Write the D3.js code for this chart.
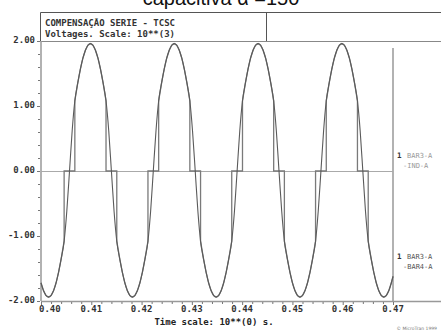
<!DOCTYPE html>
<html><head><meta charset="utf-8">
<script src="https://cdn.jsdelivr.net/npm/d3@7/dist/d3.min.js"></script>
<style>body{margin:0;background:#fff}svg{display:block;background:#fff}</style>
</head><body>
<svg id="c" width="441" height="332"></svg>
<script>
// ---- data (time in seconds, voltage in kV * 10^3 scale) ----
const timeS = [
0.4000,0.4005,0.4010,0.4015,0.4020,0.4025,0.4030,0.4035,0.4040,0.4046,0.40513,0.40567,0.4062,0.40673,
0.40733,0.40783,0.40833,0.40883,0.40933,0.40983,0.41033,0.41083,0.41133,0.41183,0.41233,0.41293,0.41347,0.4140,0.41453,0.41507,
0.41567,0.41617,0.41667,0.41717,0.41767,0.41817,0.41867,0.41917,0.41967,0.42017,0.42067,0.42127,0.4218,0.42233,0.42287,0.4234,
0.4240,0.4245,0.4250,0.4255,0.4260,0.4265,0.4270,0.4275,0.4280,0.4285,0.4290,0.4296,0.43013,0.43067,0.4312,0.43173,
0.43233,0.43283,0.43333,0.43383,0.43433,0.43483,0.43533,0.43583,0.43633,0.43683,0.43733,0.43793,0.43847,0.4390,0.43953,0.44007,
0.44067,0.44117,0.44167,0.44217,0.44267,0.44317,0.44367,0.44417,0.44467,0.44517,0.44567,0.44627,0.4468,0.44733,0.44787,0.4484,
0.4490,0.4495,0.4500,0.4505,0.4510,0.4515,0.4520,0.4525,0.4530,0.4535,0.4540,0.4546,0.45513,0.45567,0.4562,0.45673,
0.45733,0.45783,0.45833,0.45883,0.45933,0.45983,0.46033,0.46083,0.46133,0.46183,0.46233,0.46293,0.46347,0.4640,0.46453,0.46507,
0.46567,0.46617,0.46667,0.46717,0.46767,0.46817,0.46867,0.46917,0.46967,0.4700
];
// BAR3-A - BAR4-A (capacitor voltage)
const vBar3Bar4 = [
-1.72,-1.841,-1.915,-1.94,-1.915,-1.841,-1.72,-1.557,-1.357,-1.08,-0.62,0,0.62,1.08,
1.364,1.568,1.735,1.858,1.934,1.96,1.934,1.858,1.735,1.568,1.364,1.08,0.62,0,-0.62,-1.08,
-1.357,-1.557,-1.72,-1.841,-1.915,-1.94,-1.915,-1.841,-1.72,-1.557,-1.357,-1.08,-0.62,0,0.62,1.08,
1.364,1.568,1.735,1.858,1.934,1.96,1.934,1.858,1.735,1.568,1.364,1.08,0.62,0,-0.62,-1.08,
-1.357,-1.557,-1.72,-1.841,-1.915,-1.94,-1.915,-1.841,-1.72,-1.557,-1.357,-1.08,-0.62,0,0.62,1.08,
1.364,1.568,1.735,1.858,1.934,1.96,1.934,1.858,1.735,1.568,1.364,1.08,0.62,0,-0.62,-1.08,
-1.357,-1.557,-1.72,-1.841,-1.915,-1.94,-1.915,-1.841,-1.72,-1.557,-1.357,-1.08,-0.62,0,0.62,1.08,
1.364,1.568,1.735,1.858,1.934,1.96,1.934,1.858,1.735,1.568,1.364,1.08,0.62,0,-0.62,-1.08,
-1.357,-1.557,-1.72,-1.841,-1.915,-1.94,-1.915,-1.841,-1.72,-1.62
];
// BAR3-A - IND-A is zero while the thyristor valve conducts
const valveOnStart = [0.4046,0.41293,0.42127,0.4296,0.43793,0.44627,0.4546,0.46293];
const valveOnEnd   = [0.40673,0.41507,0.4234,0.43173,0.44007,0.4484,0.45673,0.46507];

const xTicks = [0.40,0.41,0.42,0.43,0.44,0.45,0.46,0.47];
const xTickLabels = ["0.40","0.41","0.42","0.43","0.44","0.45","0.46","0.47"];
const xMinorTicks = [0.402,0.404,0.406,0.408,0.412,0.414,0.416,0.418,0.422,0.424,0.426,0.428,0.432,0.434,0.436,0.438,0.442,0.444,0.446,0.448,0.452,0.454,0.456,0.458,0.462,0.464,0.466,0.468];
const yTicks = [2,1,0,-1,-2];
const yTickLabels = ["2.00","1.00","0.00","-1.00","-2.00"];
const yMinorTicks = [1.8,1.6,1.4,1.2,0.8,0.6,0.4,0.2,-0.2,-0.4,-0.6,-0.8,-1.2,-1.4,-1.6,-1.8];

const titleText = "capacitiva \u03b1 =150";
const headerLines = ["COMPENSA\u00c7\u00c3O SERIE - TCSC","Voltages. Scale: 10**(3)"];
const xTitle = "Time scale: 10**(0) s.";
const legend = [
  {num:"1", l1:"BAR3-A", l2:"-IND-A"},
  {num:"1", l1:"BAR3-A", l2:"-BAR4-A"}
];

// ---- drawing ----
const svg = d3.select("#c");
const W = 441;
const x = d3.scaleLinear().domain([0.40,0.47]).range([41,393]);
const y = d3.scaleLinear().domain([-2,2]).range([301,41]);
const mono = "'DejaVu Sans Mono', 'Liberation Mono', monospace";

// title (cut at top)
svg.append("text").attr("x",221).attr("y",4.5).attr("text-anchor","middle")
  .attr("font-family","'Liberation Sans', Arial, sans-serif").attr("font-size",20)
  .attr("fill","#111").text(titleText);

// header box
const hb = svg.append("g").attr("stroke","#555").attr("stroke-width",1).attr("fill","none");
hb.append("line").attr("x1",40.5).attr("x2",W).attr("y1",12.5).attr("y2",12.5);
hb.append("line").attr("x1",40.5).attr("x2",40.5).attr("y1",12.5).attr("y2",y(2));
hb.append("line").attr("x1",266.5).attr("x2",266.5).attr("y1",12.5).attr("y2",y(2));
hb.append("line").attr("x1",40.5).attr("x2",W).attr("y1",y(2)+0.5).attr("y2",y(2)+0.5).attr("stroke","#888");
headerLines.forEach((t,i)=>{
  svg.append("text").attr("x",45).attr("y",26+i*11).attr("font-family",mono)
    .attr("font-weight","bold").attr("font-size",9).attr("fill","#333").text(t);
});

// axes lines
const ax = svg.append("g").attr("stroke","#999").attr("fill","none");
ax.append("line").attr("x1",x(0.40)).attr("x2",x(0.40)).attr("y1",y(2)).attr("y2",y(-2)).attr("stroke-width",1.5);
ax.append("line").attr("x1",x(0.40)).attr("x2",W).attr("y1",y(-2)+0.5).attr("y2",y(-2)+0.5).attr("stroke-width",1.5);
ax.append("line").attr("x1",x(0.47)).attr("x2",x(0.47)).attr("y1",48).attr("y2",y(-2)).attr("stroke-width",1.5);
ax.append("line").attr("x1",x(0.40)).attr("x2",x(0.47)).attr("y1",y(0)+0.5).attr("y2",y(0)+0.5).attr("stroke","#aaa").attr("stroke-width",1);

// ticks via d3 axes
const yAx = svg.append("g").attr("transform",`translate(${x(0.40)-1},0)`)
  .call(d3.axisLeft(y).tickValues(yTicks).tickSize(3).tickFormat(""));
const yAxm = svg.append("g").attr("transform",`translate(${x(0.40)-1},0)`)
  .call(d3.axisLeft(y).tickValues(yMinorTicks).tickSize(2).tickFormat(""));
const xAx = svg.append("g").attr("transform",`translate(0,${y(-2)+1})`)
  .call(d3.axisBottom(x).tickValues(xTicks).tickSize(3).tickFormat(""));
const xAxm = svg.append("g").attr("transform",`translate(0,${y(-2)+1})`)
  .call(d3.axisBottom(x).tickValues(xMinorTicks).tickSize(2).tickFormat(""));
[yAx,yAxm,xAx,xAxm].forEach(g=>{g.select(".domain").remove();g.selectAll("line").attr("stroke","#777");});

yTicks.forEach((v,i)=>{
  svg.append("text").attr("x",35).attr("y",y(v)+2).attr("text-anchor","end")
    .attr("font-family",mono).attr("font-weight","bold").attr("font-size",9).attr("fill","#333")
    .text(yTickLabels[i]);
});
xTicks.forEach((v,i)=>{
  svg.append("text").attr("x",i===0?x(v)-2:x(v)).attr("y",312)
    .attr("text-anchor",i===0?"start":"middle")
    .attr("font-family",mono).attr("font-weight","bold").attr("font-size",9).attr("fill","#333")
    .text(xTickLabels[i]);
});
svg.append("text").attr("x",214).attr("y",325).attr("text-anchor","middle")
  .attr("font-family",mono).attr("font-weight","bold").attr("font-size",9).attr("fill","#222").text(xTitle);
svg.append("text").attr("x",437).attr("y",330).attr("text-anchor","end")
  .attr("font-family","'DejaVu Sans', sans-serif").attr("font-size",4.5).attr("fill","#777").text("\u00a9 MicroTran 1999");

// legend
const legY = [158,259];
const legCol = ["#999","#555"];
legend.forEach((d,i)=>{
  svg.append("text").attr("x",397).attr("y",legY[i]).attr("font-family",mono).attr("font-weight","bold")
    .attr("font-size",7.5).attr("fill","#333").text(d.num);
  svg.append("text").attr("x",407).attr("y",legY[i]).attr("font-family",mono)
    .attr("font-size",7).attr("fill",legCol[i]).text(d.l1);
  svg.append("text").attr("x",403).attr("y",legY[i]+10).attr("font-family",mono)
    .attr("font-size",7).attr("fill",legCol[i]).text(d.l2);
});

// series
const capPts = timeS.map((t,i)=>[t,vBar3Bar4[i]]);
const eq = (a,b)=>Math.abs(a-b)<1e-7;
const valvePts = [];
capPts.forEach(([t,v])=>{
  const si = valveOnStart.findIndex(s=>eq(s,t));
  const ei = valveOnEnd.findIndex(e=>eq(e,t));
  if (si>=0) { valvePts.push([t,v]); valvePts.push([t,0]); return; }
  if (ei>=0) { valvePts.push([t,0]); valvePts.push([t,v]); return; }
  const inside = valveOnStart.some((s,k)=>t>s && t<valveOnEnd[k]);
  valvePts.push([t, inside?0:v]);
});

const lineLin = d3.line().x(d=>x(d[0])).y(d=>y(d[1])).curve(d3.curveLinear);
const lineSm = d3.line().x(d=>x(d[0])).y(d=>y(d[1])).curve(d3.curveMonotoneX);

svg.append("path").datum(valvePts).attr("d",lineLin).attr("fill","none")
  .attr("stroke","#7a7a7a").attr("stroke-width",1.3);
svg.append("path").datum(capPts).attr("d",lineSm).attr("fill","none")
  .attr("stroke","#5a5a5a").attr("stroke-width",1.1);
</script>
</body></html>
